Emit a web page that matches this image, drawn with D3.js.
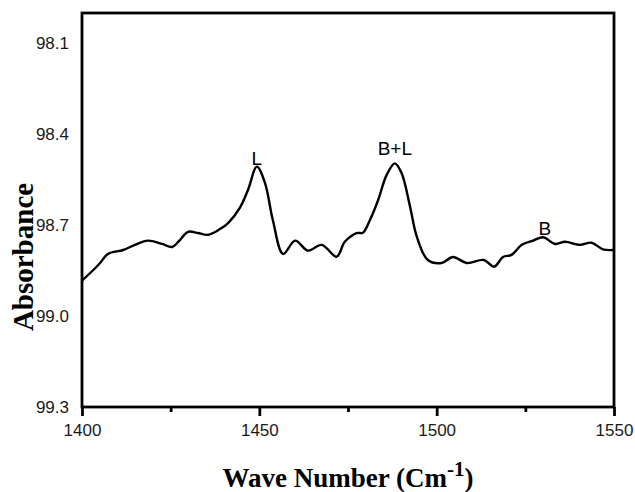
<!DOCTYPE html>
<html>
  <head>
    <meta charset="utf-8" />
    <script src="https://d3js.org/d3.v7.min.js"></script>
    <style>
        body {margin: 0; background: #fff;}
    </style>
  </head>
  <body>
    <svg id="viz"></svg>
    <script>
        // spectrum: wave number and absorbance
        var waveNumber = [1400, 1403.2, 1405.1, 1407.3, 1411.6, 1414.9, 1418.6, 1422.6, 1425.4, 1427.6,
            1429.9, 1432.7, 1435.5, 1438.9, 1441.2, 1444.5, 1446.8, 1449.3, 1451.6, 1453.8,
            1456.7, 1460.1, 1463.7, 1467.6, 1471.8, 1474.1, 1477.4, 1479.2, 1481.2, 1483.5,
            1485.9, 1488.2, 1490.1, 1492.5, 1494.4, 1497.5, 1501.4, 1504.6, 1508.5, 1513.3,
            1516.2, 1518.7, 1521.1, 1524.0, 1527.2, 1530.0, 1533.4, 1536.2, 1540.4, 1543.7,
            1546.9, 1550];
        var absorbance = [98.883, 98.848, 98.825, 98.795, 98.782, 98.765, 98.751, 98.762, 98.772, 98.749,
            98.722, 98.726, 98.732, 98.713, 98.693, 98.643, 98.584, 98.507, 98.561, 98.683,
            98.795, 98.751, 98.784, 98.765, 98.804, 98.755, 98.726, 98.725, 98.683, 98.617,
            98.534, 98.496, 98.528, 98.639, 98.738, 98.815, 98.825, 98.805, 98.825, 98.815,
            98.837, 98.805, 98.798, 98.765, 98.751, 98.740, 98.762, 98.755, 98.765, 98.758,
            98.780, 98.782];

        var xTicks = [1400, 1450, 1500, 1550];
        var xMinor = [1425, 1475, 1525];
        var yTicks = [98.1, 98.4, 98.7, 99.0, 99.3];

        // peak labels
        var peakNames = ["L", "B+L", "B"];
        var peakX = [1449.3, 1488.2, 1530.5];
        var peakY = [98.50, 98.47, 98.732];

        var width = 635, height = 492;
        var margin = {left: 82, right: 21, top: 13, bottom: 85};

        var svg = d3.select("#viz")
            .attr("width", width)
            .attr("height", height);

        var x = d3.scaleLinear()
            .domain([1400, 1550])
            .range([margin.left, width - margin.right]);

        // absorbance axis runs downward
        var y = d3.scaleLinear()
            .domain([98.0, 99.3])
            .range([margin.top, height - margin.bottom]);

        var points = waveNumber.map(function(d, i) { return [d, absorbance[i]]; });

        var line = d3.line()
            .x(function(d) { return x(d[0]); })
            .y(function(d) { return y(d[1]); })
            .curve(d3.curveCatmullRom.alpha(0.5));

        svg.append("path")
            .datum(points)
            .attr("d", line)
            .attr("fill", "none")
            .attr("stroke", "#000")
            .attr("stroke-width", 2.4)
            .attr("stroke-linejoin", "round");

        // frame
        svg.append("rect")
            .attr("x", x(1400))
            .attr("y", y(98.0))
            .attr("width", x(1550) - x(1400))
            .attr("height", y(99.3) - y(98.0))
            .attr("fill", "none")
            .attr("stroke", "#000")
            .attr("stroke-width", 2.8);

        // x axis: major ticks with labels, minor ticks without
        var xAxis = svg.append("g")
            .attr("transform", "translate(0," + y(99.3) + ")")
            .call(d3.axisBottom(x).tickValues(xTicks).tickSize(9).tickPadding(8).tickFormat(d3.format("d")));
        xAxis.select(".domain").remove();
        xAxis.selectAll("line").attr("stroke-width", 2.8);
        xAxis.selectAll("text")
            .attr("font-family", "Liberation Sans, Arial, sans-serif")
            .attr("font-size", 17)
            .attr("fill", "#1a1a1a");

        var xAxisMinor = svg.append("g")
            .attr("transform", "translate(0," + y(99.3) + ")")
            .call(d3.axisBottom(x).tickValues(xMinor).tickSize(5).tickFormat(""));
        xAxisMinor.select(".domain").remove();
        xAxisMinor.selectAll("line").attr("stroke-width", 2.8);

        // y axis: labels only
        var yAxis = svg.append("g")
            .attr("transform", "translate(" + x(1400) + ",0)")
            .call(d3.axisLeft(y).tickValues(yTicks).tickSize(0).tickPadding(13).tickFormat(d3.format(".1f")));
        yAxis.select(".domain").remove();
        yAxis.selectAll("text")
            .attr("font-family", "Liberation Sans, Arial, sans-serif")
            .attr("font-size", 17)
            .attr("fill", "#1a1a1a");

        // peak annotations
        svg.selectAll(".peak")
            .data(peakNames)
            .enter().append("text")
            .attr("class", "peak")
            .attr("x", function(d, i) { return x(peakX[i]); })
            .attr("y", function(d, i) { return y(peakY[i]); })
            .attr("text-anchor", "middle")
            .attr("font-family", "Liberation Sans, Arial, sans-serif")
            .attr("font-size", 19)
            .attr("fill", "#000")
            .text(function(d) { return d; });

        // axis titles
        svg.append("text")
            .attr("transform", "translate(33,257) rotate(-90)")
            .attr("text-anchor", "middle")
            .attr("font-family", "Liberation Serif, Times New Roman, serif")
            .attr("font-weight", "bold")
            .attr("font-size", 29)
            .text("Absorbance");

        var xt = svg.append("text")
            .attr("x", (x(1400) + x(1550)) / 2)
            .attr("y", 487)
            .attr("text-anchor", "middle")
            .attr("font-family", "Liberation Serif, Times New Roman, serif")
            .attr("font-weight", "bold")
            .attr("font-size", 27);
        xt.append("tspan").text("Wave Number (Cm");
        xt.append("tspan").attr("dy", -11).attr("font-size", 21).text("-1");
        xt.append("tspan").attr("dy", 11).text(")");
    </script>
  </body>
</html>
